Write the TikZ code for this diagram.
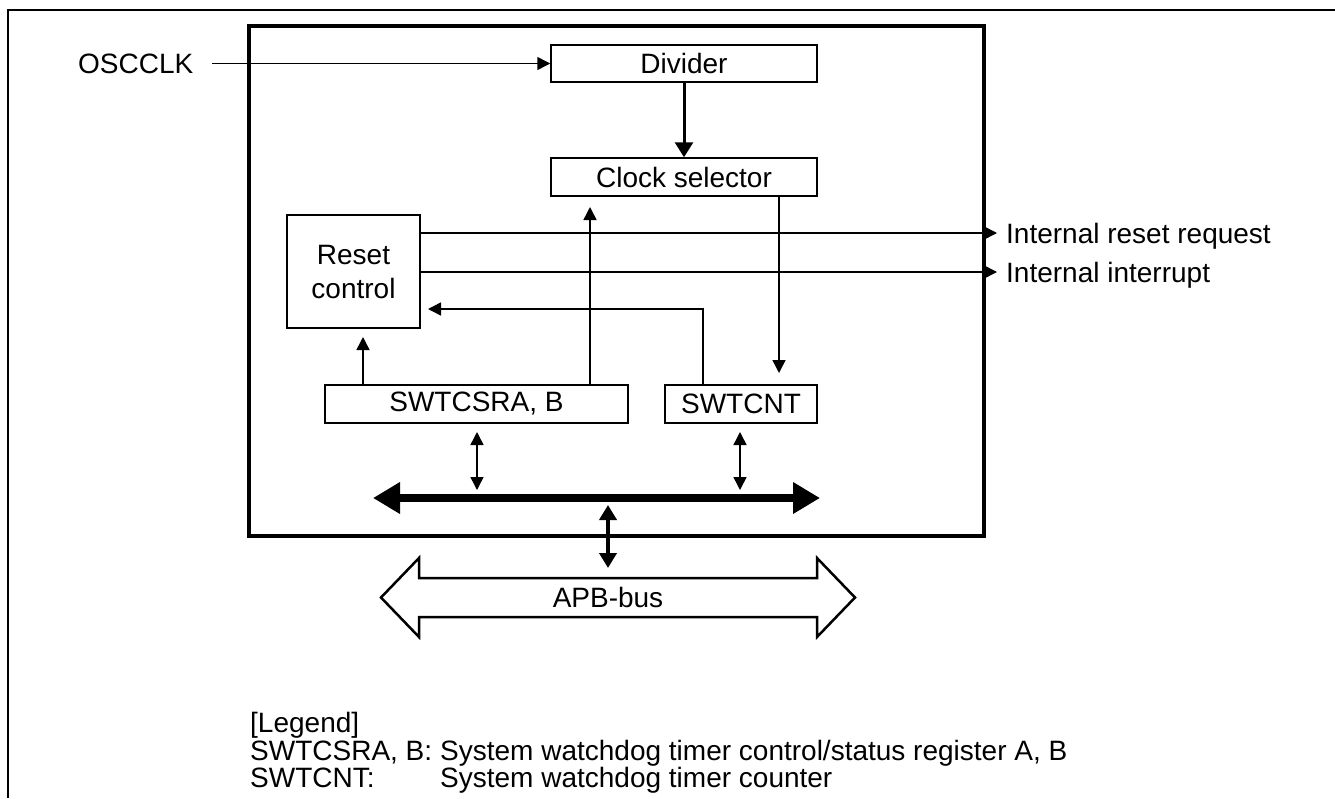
\documentclass[tikz,border=0pt]{standalone}
\usepackage{fontspec}
\setmainfont{Liberation Sans}
\usetikzlibrary{arrows.meta,calc}
\begin{document}
\begin{tikzpicture}[x=1pt,y=-1pt,
  every node/.style={font=\fontsize{28}{34}\selectfont, inner sep=0pt},
  blk/.style={draw, line width=1.5pt, align=center},
  tarrow/.style={line width=1.5pt, -{Triangle[length=13pt,width=13pt]}},
  tdarrow/.style={line width=1.5pt, {Triangle[length=13pt,width=13pt]}-{Triangle[length=13pt,width=13pt]}},
  thickarrow/.style={line width=3pt, -{Triangle[length=15pt,width=18pt]}},
  busarrow/.style={line width=8pt, {Triangle[length=27pt,width=30pt]}-{Triangle[length=27pt,width=30pt]}},
  vbusarrow/.style={line width=4.5pt, {Triangle[length=15pt,width=17pt]}-{Triangle[length=15pt,width=17pt]}}]
\useasboundingbox (0,0) rectangle (1335,798);
% outer frame
\draw[line width=2.5pt] (8,798) -- (8,10) -- (1335,10);
% main box
\node[draw, line width=3.5pt, minimum width=735pt, minimum height=510pt] (main) at (616.5,281) {};
% blocks
\node[blk, minimum width=266pt, minimum height=37pt] (div) at (684,63.5) {Divider};
\node[blk, minimum width=266pt, minimum height=38pt] (csel) at (684,177) {Clock selector};
\node[blk, minimum width=133pt, minimum height=113pt] (rst) at (353.5,271.5) {Reset\\control};
\node[blk, minimum width=303pt, minimum height=38pt] (csr) at (476.5,404) {SWTCSRA, B};
\node[blk, minimum width=152pt, minimum height=38pt] (cnt) at (741,404) {SWTCNT};
% labels
\node[anchor=base west] (osc) at (78,73) {OSCCLK};
\node[anchor=base west] (irr) at (1006,243) {Internal reset request};
\node[anchor=base west] (iin) at (1006,282) {Internal interrupt};
% coordinates
\coordinate (oscout) at (212,63.5);
\coordinate (irrin) at (997,233);
\coordinate (iinin) at (997,272);
\coordinate (c1) at (703,309);
\coordinate (rstin) at (428,309);
\coordinate (rstup) at (363,337);
\coordinate (cselin) at (590,207);
\coordinate (cntin) at (779,373);
\coordinate (busL) at (373,498);
\coordinate (busR) at (820,498);
\coordinate (b1t) at (477,432);
\coordinate (b1b) at (477,490);
\coordinate (b2t) at (740,432);
\coordinate (b2b) at (740,490);
\coordinate (v1) at (608,505);
\coordinate (v2) at (608,568);
% connectors
\draw[tarrow] (oscout) -- (div.west);
\draw[thickarrow] (div.south) -- (csel.north);
\draw[tarrow] (rst.east |- irrin) -- (irrin);
\draw[tarrow] (rst.east |- iinin) -- (iinin);
\draw[tarrow] (cnt.north -| c1) -- (c1) -- (rstin);
\draw[tarrow] (csr.north -| rstup) -- (rstup);
\draw[tarrow] (csr.north -| cselin) -- (cselin);
\draw[tarrow] (csel.south -| cntin) -- (cntin);
\draw[busarrow] (busL) -- (busR);
\draw[tdarrow] (b1t) -- (b1b);
\draw[tdarrow] (b2t) -- (b2b);
\draw[vbusarrow] (v1) -- (v2);
% APB bus hollow arrow
\draw[line width=2.5pt, line join=miter] (381,597.5) -- (419,558) -- (419,578) -- (817,578) -- (817,558) -- (855,597.5) -- (817,637) -- (817,617) -- (419,617) -- (419,637) -- cycle;
\node (apb) at (608,597.5) {APB-bus};
% legend
\node[anchor=base west] (lg) at (250,732) {[Legend]};
\node[anchor=base west] (l1a) at (250,760) {SWTCSRA, B:};
\node[anchor=base west] (l1b) at (440,760) {System watchdog timer control/status register A, B};
\node[anchor=base west] (l2a) at (250,787) {SWTCNT:};
\node[anchor=base west] (l2b) at (440,787) {System watchdog timer counter};
\end{tikzpicture}
\end{document}
